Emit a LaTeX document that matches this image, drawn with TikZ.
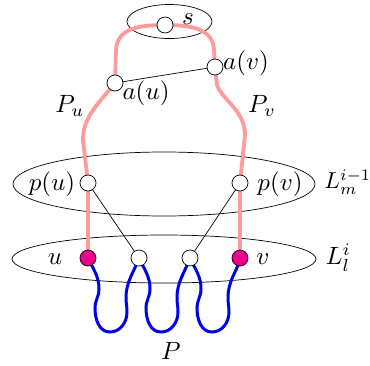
\documentclass[tikz,border=0pt]{standalone}
\begin{document}
\begin{tikzpicture}[x=1pt,y=-1pt,
  vtx/.style={circle,draw,line width=0.7pt,fill=white,minimum size=16pt,inner sep=0pt},
  mag/.style={vtx,fill=magenta},
  lbl/.style={scale=2.5,inner sep=0pt},
  pinkp/.style={line width=3.8pt,color={rgb,255:red,255;green,155;blue,155}},
  bluep/.style={line width=3pt,color={rgb,255:red,0;green,0;blue,235}},
  layer/.style={line width=0.7pt}]
\useasboundingbox (0,0) rectangle (370,365);
% layers
\draw[layer] (169.5,21.5) ellipse [x radius=42.5, y radius=17];
\draw[layer] (164,184) ellipse [x radius=151, y radius=32];
\draw[layer] (164,259) ellipse [x radius=152, y radius=24];
% coordinates
\coordinate (s) at (165,25);
\coordinate (au) at (115,83);
\coordinate (av) at (215,67);
\coordinate (pu) at (88,183);
\coordinate (pv) at (240,183);
\coordinate (u) at (88,258);
\coordinate (w1) at (139,258);
\coordinate (w2) at (190,258);
\coordinate (v) at (240,258);
% pink paths
\draw[pinkp] (s) .. controls (140,25) and (117,28) .. (116,50) -- (au);
\draw[pinkp] (au) .. controls (96,106) and (83,118) .. (83,140) -- (pu);
\draw[pinkp] (pu) -- (u);
\draw[pinkp] (s) .. controls (190,25) and (213,28) .. (214,50) -- (av);
\draw[pinkp] (av) -- (217,85) .. controls (222,100) and (245,110) .. (245,135) -- (pv);
\draw[pinkp] (pv) -- (v);
% blue loops
\foreach \a in {88,139,190}{
  \draw[bluep] (\a,258) to[out=-65,in=90] (\a+11,289) to[out=-90,in=90] (\a+7,308)
    to[out=-90,in=180] (\a+22,332) to[out=0,in=-90] (\a+39,312)
    to[out=90,in=-90] (\a+38,298) to[out=90,in=-110] (\a+51,258);
}
% black edges
\draw[line width=0.7pt] (au) -- (av);
\draw[line width=0.7pt] (pu) -- (w1);
\draw[line width=0.7pt] (pv) -- (w2);
% vertices
\node[vtx] (S) at (s) {};
\node[vtx] (AU) at (au) {};
\node[vtx] (AV) at (av) {};
\node[vtx] (PU) at (pu) {};
\node[vtx] (PV) at (pv) {};
\node[mag] (U) at (u) {};
\node[vtx] (W1) at (w1) {};
\node[vtx] (W2) at (w2) {};
\node[mag] (V) at (v) {};
% labels
\node[lbl] at (188,19) {$s$};
\node[lbl] at (146,93) {$a(u)$};
\node[lbl] at (246,63) {$a(v)$};
\node[lbl] at (70,106) {$P_u$};
\node[lbl] at (262,106) {$P_v$};
\node[lbl] at (52,184) {$p(u)$};
\node[lbl] at (280,184) {$p(v)$};
\node[lbl,scale=0.92,anchor=west] at (324,182) {$L_m^{i-1}$};
\node[lbl] at (55,259) {$u$};
\node[lbl] at (263,259) {$v$};
\node[lbl,anchor=west] at (325,258) {$L_l^{i}$};
\node[lbl] at (171,351) {$P$};
\end{tikzpicture}
\end{document}
